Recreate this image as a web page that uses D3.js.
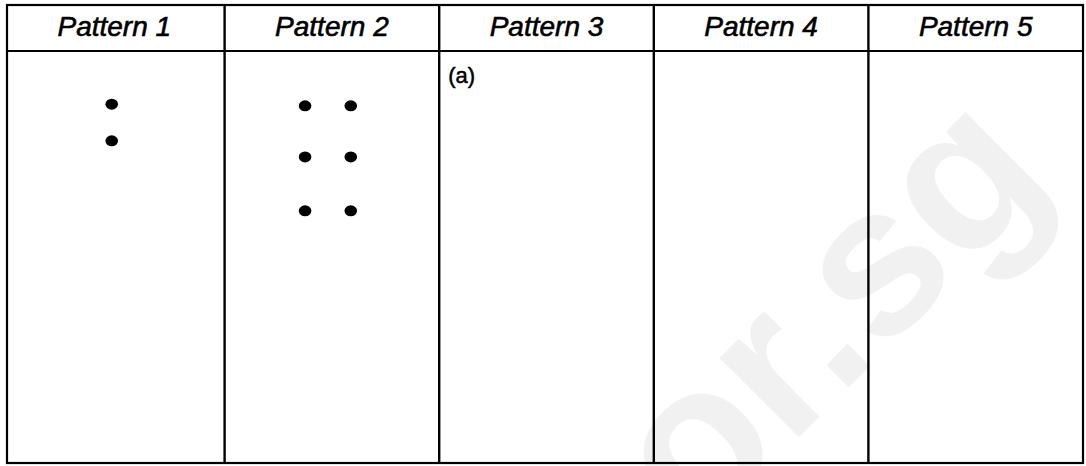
<!DOCTYPE html>
<html><head><meta charset="utf-8">
<script src="https://cdn.jsdelivr.net/npm/d3@7"></script>
<style>html,body{margin:0;padding:0;background:#fff;}svg{display:block;}</style>
</head><body>
<svg id="chart" width="1086" height="466"></svg>
<script>
// ---- data ----
const patterns = ["Pattern 1", "Pattern 2", "Pattern 3", "Pattern 4", "Pattern 5"];
// dot positions: pattern index, horizontal fraction of cell width, vertical % of body height
const dotPattern = [0, 0, 1, 1, 1, 1, 1, 1];
const dotX       = [0.474, 0.474, 0.375, 0.588, 0.375, 0.588, 0.375, 0.588];
const dotY       = [12.9, 21.8, 13.3, 13.3, 25.7, 25.7, 38.8, 38.8];
const partLabel  = "(a)";
const watermark  = "or.sg";

// ---- layout ----
const svg = d3.select("#chart");
const L = { left: 7, bandLeft: 10, right: 1083, top: 5, headBottom: 51, bottom: 463 };

const x = d3.scaleBand().domain(patterns).range([L.bandLeft, L.right]).padding(0);
const y = d3.scaleLinear().domain([0, 100]).range([L.headBottom, L.bottom]);

// watermark
svg.append("text")
  .attr("transform", "translate(876,360) rotate(-45)")
  .attr("text-anchor", "middle")
  .attr("font-family", "Liberation Sans, Arial, sans-serif")
  .attr("font-weight", "bold")
  .attr("font-size", 212)
  .attr("fill", "#f1f1f1")
  .text(watermark);

// header texts
svg.selectAll("text.head").data(patterns).join("text")
  .attr("class", "head")
  .attr("x", d => x(d) + x.bandwidth() / 2 - (d === patterns[0] ? 3 : 0))
  .attr("y", 36)
  .attr("text-anchor", "middle")
  .attr("font-family", "Liberation Sans, Arial, sans-serif")
  .attr("font-style", "italic")
  .attr("font-size", 28)
  .attr("fill", "#000")
  .attr("stroke", "#000")
  .attr("stroke-width", 0.6)
  .text(d => d);

// grid lines
const g = svg.append("g").attr("stroke", "#000").attr("fill", "none");
g.append("rect").attr("x", L.left).attr("y", L.top)
  .attr("width", L.right - L.left).attr("height", L.bottom - L.top).attr("stroke-width", 2.2);
g.append("line").attr("x1", L.left).attr("x2", L.right)
  .attr("y1", L.headBottom).attr("y2", L.headBottom).attr("stroke-width", 2.2);
g.selectAll("line.div").data(patterns.slice(1)).join("line")
  .attr("class", "div")
  .attr("x1", d => x(d)).attr("x2", d => x(d))
  .attr("y1", L.top).attr("y2", L.bottom).attr("stroke-width", 2.4);

// dots
svg.selectAll("ellipse.dot").data(dotPattern.map((p, i) => ({p, fx: dotX[i], fy: dotY[i]})))
  .join("ellipse")
  .attr("class", "dot")
  .attr("cx", d => x(patterns[d.p]) + d.fx * x.bandwidth())
  .attr("cy", d => y(d.fy))
  .attr("rx", 6.3).attr("ry", 5.5)
  .attr("fill", "#000");

// part label
svg.append("text")
  .attr("x", x(patterns[2]) + 9)
  .attr("y", y(7.8))
  .attr("font-family", "Liberation Sans, Arial, sans-serif")
  .attr("font-size", 22)
  .attr("fill", "#000")
  .attr("stroke", "#000")
  .attr("stroke-width", 0.5)
  .text(partLabel);
</script>
</body></html>
